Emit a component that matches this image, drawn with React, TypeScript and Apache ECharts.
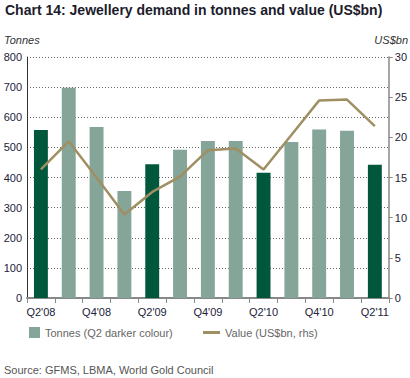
import React, { useEffect, useRef } from "react";
import * as echarts from "echarts";

const categories = ["Q2'08", "Q3'08", "Q4'08", "Q1'09", "Q2'09", "Q3'09", "Q4'09", "Q1'10", "Q2'10", "Q3'10", "Q4'10", "Q1'11", "Q2'11"];
const tonnes = [558, 698, 568, 355, 444, 492, 521, 521, 416, 518, 559, 555, 442];
const valueBn = [16.0, 19.5, 15.0, 10.4, 13.2, 15.1, 18.4, 18.6, 16.0, 20.3, 24.6, 24.7, 21.4];
const leftTicks = [0, 800, 100];
const rightTicks = [0, 30, 5];

const DARK = "#00573c";
const LIGHT = "#84a598";
const LINE = "#a08f62";
const FONT = "'Liberation Sans', Arial, sans-serif";

export default function App() {
  const ref = useRef<HTMLDivElement>(null);
  useEffect(() => {
    if (!ref.current) return;
    const chart = echarts.init(ref.current, null, { renderer: "svg" });
    chart.setOption({
      animation: false,
      textStyle: { fontFamily: FONT },
      graphic: [
        { type: "text", left: 5, top: 3, style: { text: "Chart 14: Jewellery demand in tonnes and value (US$bn)", font: `bold 14px ${FONT}`, fill: "#1c1c2c" } },
        { type: "text", left: 4, top: 34, style: { text: "Tonnes", font: `italic 11px ${FONT}`, fill: "#333" } },
        { type: "text", right: 2, top: 34, style: { text: "US$bn", font: `italic 11px ${FONT}`, fill: "#333" } },
        { type: "text", left: 4, top: 364, style: { text: "Source: GFMS, LBMA, World Gold Council", font: `11px ${FONT}`, fill: "#555" } },
      ],
      grid: { left: 27, right: 21, top: 57, bottom: 80, containLabel: false },
      legend: [
        { left: 24, top: 322, itemWidth: 11, itemHeight: 11, itemGap: 10, textStyle: { color: "#666", fontSize: 11, fontFamily: FONT }, data: [{ name: "Tonnes (Q2 darker colour)", icon: "rect" }] },
        { left: 198, top: 322, itemWidth: 17, itemHeight: 3, textStyle: { color: "#666", fontSize: 11, fontFamily: FONT }, data: [{ name: "Value (US$bn, rhs)", icon: "rect" }] },
      ],
      xAxis: {
        type: "category",
        data: categories,
        boundaryGap: true,
        axisLine: { lineStyle: { color: "#888", width: 2 } },
        axisTick: { show: true, interval: 0, length: 5, lineStyle: { color: "#888" } },
        axisLabel: { interval: 1, color: "#22223a", fontSize: 11, margin: 8, fontFamily: FONT },
      },
      yAxis: [
        {
          type: "value",
          min: leftTicks[0], max: leftTicks[1], interval: leftTicks[2],
          axisLine: { show: true, lineStyle: { color: "#333", width: 1 } },
          axisTick: { show: false },
          axisLabel: { color: "#22223a", fontSize: 11, margin: 5, fontFamily: FONT },
          splitLine: { show: true, lineStyle: { color: "#666", type: [1, 2], width: 1 } },
        },
        {
          type: "value",
          min: rightTicks[0], max: rightTicks[1], interval: rightTicks[2],
          position: "right",
          axisLine: { show: true, lineStyle: { color: "#888", width: 1.5 } },
          axisTick: { show: true, length: 4, inside: false, lineStyle: { color: "#888" } },
          axisLabel: { color: "#22223a", fontSize: 11, margin: 6, fontFamily: FONT },
          splitLine: { show: false },
        },
      ],
      series: [
        {
          name: "Tonnes (Q2 darker colour)",
          type: "bar",
          yAxisIndex: 0,
          barWidth: "50%",
          itemStyle: { color: LIGHT },
          data: tonnes.map((v, i) => ({ value: v, itemStyle: { color: categories[i].startsWith("Q2") ? DARK : LIGHT } })),
        },
        {
          name: "Value (US$bn, rhs)",
          type: "line",
          yAxisIndex: 1,
          symbol: "none",
          lineStyle: { color: LINE, width: 2.5 },
          itemStyle: { color: LINE },
          data: valueBn,
        },
      ],
    });
    return () => chart.dispose();
  }, []);
  return <div ref={ref} style={{ position: "absolute", left: 0, top: 0, width: 410, height: 378 }} />;
}
